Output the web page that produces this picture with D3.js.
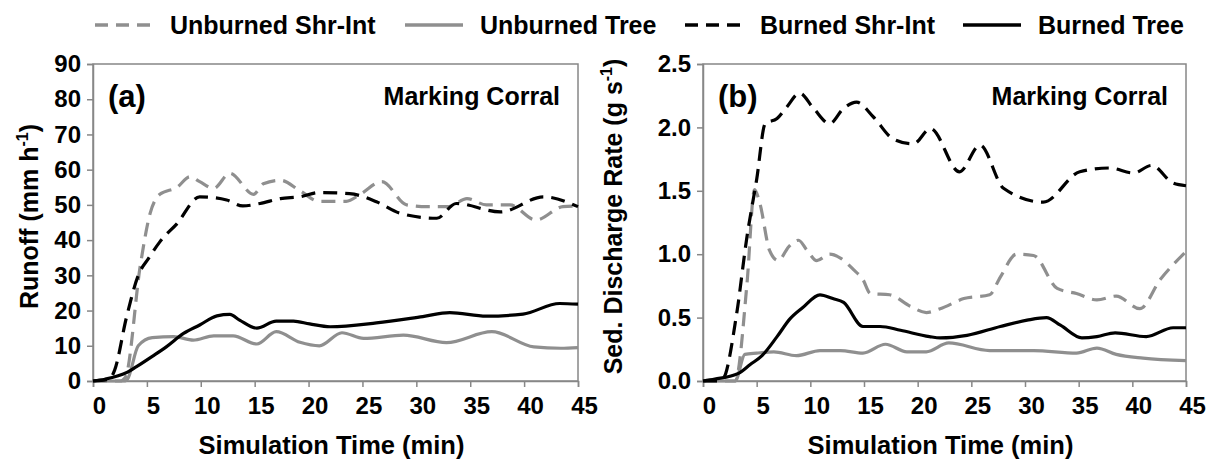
<!DOCTYPE html>
<html>
<head>
<meta charset="utf-8">
<script src="https://cdn.jsdelivr.net/npm/d3@7"></script>
<style>
  body { margin: 0; background: #fff; }
  svg text { font-family: "Liberation Sans", Arial, sans-serif; font-weight: bold; fill: #000; }
</style>
</head>
<body>
<svg id="chart" width="1210" height="465"></svg>
<script>
// Series names
const seriesNames = ["Unburned Shr-Int", "Unburned Tree", "Burned Shr-Int", "Burned Tree"];
const xTicks = [0, 5, 10, 15, 20, 25, 30, 35, 40, 45];

// Panel (a) runoff, [time (min), mm/h]
const runoffUnburnedShr = [[0,0],[2.5,0],[3,1],[4.4,33],[5.3,47.6],[6.2,53],[7.8,55],[9,58],[9.9,56.6],[11.2,54.7],[12.7,59],[14.9,53],[15.8,56],[17.4,57],[19.2,54],[21,51],[23.5,51],[24.8,53],[26.8,56.6],[29.1,50],[31,49.5],[33,49.5],[34.7,51.8],[36.5,50],[38.7,50],[41.1,45.7],[43.6,49.5],[45,49.7]];
const runoffUnburnedTree = [[0,0],[3,0],[3.2,0.5],[4.2,10],[5.5,12.3],[7.5,12.6],[9.3,11.6],[11.2,12.8],[13,12.8],[15.2,10.5],[17,14],[19.2,11],[21,10],[23.1,13.7],[25.1,12.1],[28.8,13],[32.8,10.9],[37,14],[40.9,9.7],[43.4,9.3],[45,9.5]];
const runoffBurnedShr = [[0,0],[1.5,0.5],[2,3],[3.1,18],[4.2,30],[5.2,35],[6.2,39.5],[7.8,44.7],[9.9,52.3],[12.4,51.4],[13.9,49.7],[15.5,50.4],[17.4,51.8],[19.2,52.3],[21,53.5],[23.8,53.2],[26.3,50.9],[28.5,47.6],[31.9,46.2],[33.7,50.4],[37.8,48],[41.8,52.3],[45,49.5]];
const runoffBurnedTree = [[0,0],[1.1,0.5],[3.2,2.5],[4,4],[5.5,7],[6.8,9.7],[8.4,13.5],[9.9,15.9],[11.5,18.5],[12.7,18.9],[13.6,17.3],[15.2,15],[17,17],[18.6,17],[20.1,16.2],[22,15.4],[26.3,16.5],[30.6,18.3],[33.1,19.4],[36.5,18.4],[39.9,19],[43.3,22],[45,21.8]];

// Panel (b) sediment discharge, [time (min), g/s]
const sedUnburnedShr = [[0,0],[3,0],[4.1,0.77],[4.8,1.51],[5.3,1.4],[6.2,1.03],[7,0.95],[8,1.06],[8.9,1.11],[9.7,1.03],[10.6,0.95],[11.8,1.0],[12.8,0.97],[14,0.88],[14.9,0.8],[15.6,0.69],[17.4,0.68],[19.3,0.59],[20.8,0.54],[22.1,0.57],[24.3,0.65],[26.7,0.68],[27.7,0.82],[29.2,1.0],[30.8,0.99],[33,0.73],[34.8,0.69],[36.7,0.64],[38.5,0.67],[40.7,0.57],[42.6,0.8],[45,1.02]];
const sedUnburnedTree = [[0,0],[3,0],[3.9,0.21],[5,0.22],[6.6,0.23],[8.7,0.2],[10.9,0.24],[12.8,0.24],[14.9,0.22],[17,0.29],[19,0.23],[20.8,0.23],[22.9,0.3],[26.7,0.24],[30.8,0.24],[34.8,0.22],[36.7,0.26],[38.5,0.21],[41,0.18],[45,0.16]];
const sedBurnedShr = [[0,0],[1.5,0],[1.9,0.02],[3.1,0.51],[4.1,1.14],[5,1.59],[5.8,2.03],[6.9,2.07],[7.8,2.16],[9,2.27],[10.3,2.15],[11.8,2.03],[13.1,2.15],[14.3,2.2],[15.9,2.08],[17.7,1.91],[19.6,1.87],[21.2,1.99],[23.9,1.65],[25.8,1.86],[28,1.52],[31.7,1.41],[35.1,1.65],[37.9,1.68],[40.1,1.64],[41.8,1.7],[43.8,1.56],[45,1.54]];
const sedBurnedTree = [[0,0],[1.1,0.015],[3.3,0.06],[4.4,0.13],[5.5,0.2],[6.9,0.35],[8.1,0.49],[9.3,0.58],[10.9,0.68],[12.1,0.65],[13.1,0.62],[14.9,0.43],[16.5,0.43],[18.4,0.4],[21.1,0.35],[22.1,0.34],[24.6,0.36],[27.7,0.43],[30.2,0.48],[32,0.5],[33.3,0.44],[35.3,0.34],[36.7,0.35],[38.4,0.38],[41.3,0.35],[43.8,0.42],[45,0.42]];

const grey = "#8f8f8f";
const axisGrey = "#878787";
const styles = [
  { color: grey, dash: "14,8" },
  { color: grey, dash: null },
  { color: "#000", dash: "14,8" },
  { color: "#000", dash: null }
];

const svg = d3.select("#chart");
svg.append("rect").attr("width", 1210).attr("height", 465).attr("fill", "#fff");

// Legend
const legendX = [95, 405, 685, 963];
seriesNames.forEach((name, i) => {
  const g = svg.append("g").attr("transform", `translate(${legendX[i]},25)`);
  g.append("line")
    .attr("x1", 0).attr("x2", 58).attr("y1", 0).attr("y2", 0)
    .attr("stroke", styles[i].color)
    .attr("stroke-width", 3.5)
    .attr("stroke-dasharray", i % 2 === 0 ? "13,8" : null);
  g.append("text")
    .attr("x", 75).attr("y", 9)
    .style("font-size", "25px")
    .text(name);
});

function drawPanel(opts) {
  const { left, right, top, bottom, yMax, yTicks, yFormat, data, label, yTitle, titleX } = opts;

  const x = d3.scaleLinear().domain([0, 45]).range([left, right]);
  const y = d3.scaleLinear().domain([0, yMax]).range([bottom, top]);

  // frame
  svg.append("rect")
    .attr("x", left).attr("y", top)
    .attr("width", right - left).attr("height", bottom - top)
    .attr("fill", "none").attr("stroke", axisGrey).attr("stroke-width", 1.5);

  const xAxis = svg.append("g")
    .attr("transform", `translate(0,${bottom})`)
    .call(d3.axisBottom(x).tickValues(xTicks).tickSize(6).tickPadding(10).tickSizeOuter(6));
  const yAxis = svg.append("g")
    .attr("transform", `translate(${left},0)`)
    .call(d3.axisLeft(y).tickValues(yTicks).tickFormat(yFormat).tickSize(6).tickPadding(6).tickSizeOuter(6));

  [xAxis, yAxis].forEach(a => {
    a.select(".domain").attr("stroke", axisGrey).attr("stroke-width", 1.5);
    a.selectAll(".tick line").attr("stroke", axisGrey).attr("stroke-width", 1.5);
    a.selectAll(".tick text")
      .attr("fill", "#000")
      .style("font-size", "24px")
      .style("font-family", "'Liberation Sans', Arial, sans-serif")
      .style("font-weight", "bold");
  });
  xAxis.selectAll(".tick text").attr("dx", 6);

  const line = d3.line()
    .x(d => x(d[0]))
    .y(d => y(d[1]))
    .curve(d3.curveMonotoneX);

  data.forEach((series, i) => {
    svg.append("path")
      .datum(series)
      .attr("fill", "none")
      .attr("stroke", styles[i].color)
      .attr("stroke-width", 3.2)
      .attr("stroke-dasharray", styles[i].dash)
      .attr("stroke-linejoin", "round")
      .attr("d", line);
  });

  svg.append("text")
    .attr("x", left + 15).attr("y", top + 43)
    .style("font-size", "31px")
    .text(label);

  svg.append("text")
    .attr("x", right - 18).attr("y", top + 41)
    .attr("text-anchor", "end")
    .style("font-size", "25px")
    .text("Marking Corral");

  svg.append("text")
    .attr("x", (left + right) / 2 - 4).attr("y", 454)
    .attr("text-anchor", "middle")
    .style("font-size", "25.5px")
    .text("Simulation Time (min)");

  const t = svg.append("text")
    .attr("transform", `translate(${titleX},${(top + bottom) / 2 - 6}) rotate(-90)`)
    .attr("text-anchor", "middle")
    .style("font-size", "25px");
  t.append("tspan").text(yTitle[0]);
  t.append("tspan").attr("dy", -10).style("font-size", "16px").text(yTitle[1]);
  t.append("tspan").attr("dy", 10).text(")");
}

drawPanel({
  left: 93, right: 578, top: 64, bottom: 381,
  yMax: 90, yTicks: d3.range(0, 91, 10), yFormat: d3.format("d"),
  data: [runoffUnburnedShr, runoffUnburnedTree, runoffBurnedShr, runoffBurnedTree],
  label: "(a)", yTitle: ["Runoff (mm h", "-1"], titleX: 38
});

drawPanel({
  left: 703, right: 1186, top: 64, bottom: 381,
  yMax: 2.5, yTicks: [0, 0.5, 1, 1.5, 2, 2.5], yFormat: d3.format(".1f"),
  data: [sedUnburnedShr, sedUnburnedTree, sedBurnedShr, sedBurnedTree],
  label: "(b)", yTitle: ["Sed. Discharge Rate (g s", "-1"], titleX: 622
});
</script>
</body>
</html>
